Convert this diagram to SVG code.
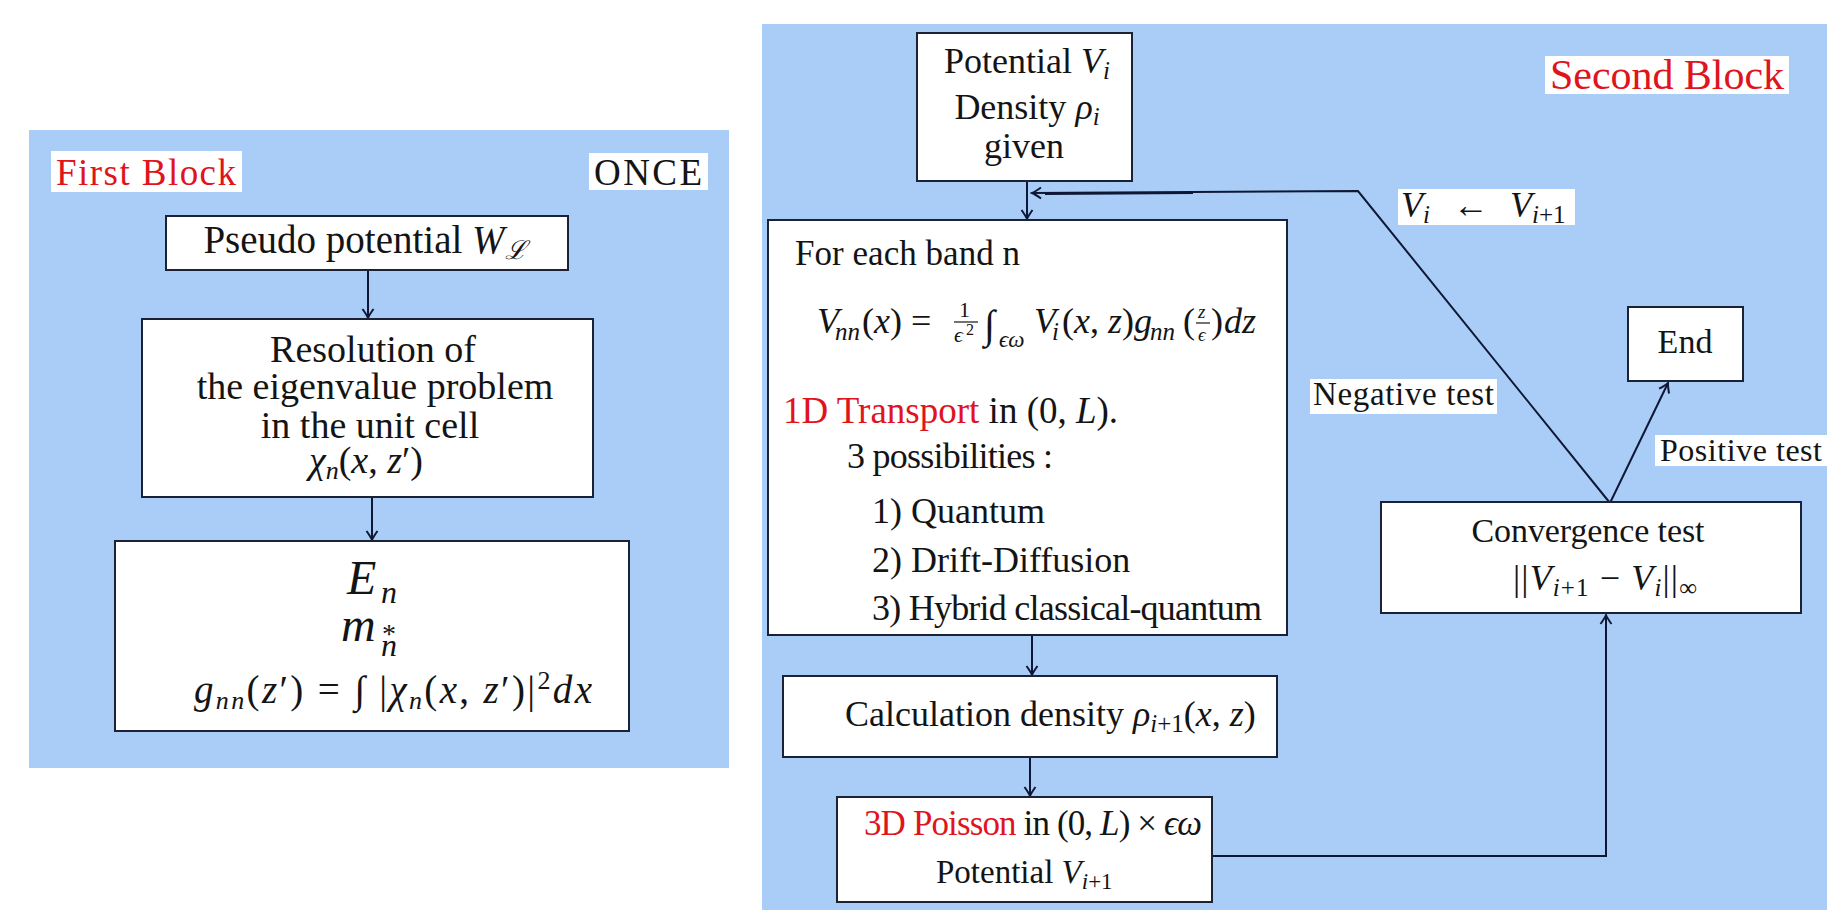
<svg xmlns="http://www.w3.org/2000/svg" width="1827" height="910" viewBox="0 0 1827 910">
<style>
.bg{fill:#a9cdf6}
.box{fill:#fff;stroke:#1b2235;stroke-width:2}
.lbl{fill:#fff}
.t{font-family:"Liberation Serif","Times New Roman","DejaVu Serif",serif;fill:#141414}
.red{fill:#e0141c}
.it{font-style:italic}
.cn{fill:none;stroke:#0e1836;stroke-width:2}
.fb{stroke:#141414;stroke-width:1.2}
</style>
<defs>
<marker id="ah" viewBox="-11 -7 13 14" refX="0" refY="0" markerWidth="13" markerHeight="14" markerUnits="userSpaceOnUse" orient="auto">
<path d="M-9,-5.5 Q-3,-1.2 0,0 Q-3,1.2 -9,5.5" fill="none" stroke="#0e1836" stroke-width="2"/>
</marker>
</defs>
<rect fill="#ffffff" x="0" y="0" width="1827" height="910"/>
<g id="first-block">
<rect class="bg" x="29" y="130" width="700" height="638"/>
<rect class="lbl" x="51" y="151" width="191" height="41"/>
<text class="t red" x="56" y="185" font-size="37" textLength="180">First Block</text>
<rect class="lbl" x="589" y="153" width="119" height="37"/>
<text class="t" x="594" y="185" font-size="37" textLength="108">ONCE</text>
</g>
<g id="second-block">
<rect class="bg" x="762" y="24" width="1065" height="886"/>
<rect class="lbl" x="1545" y="56" width="244" height="38"/>
<text class="t red" x="1550" y="89" font-size="42" textLength="234">Second Block</text>
</g>
<g id="connectors">
<path class="cn" d="M368,270 L368,318" marker-end="url(#ah)"/>
<path class="cn" d="M372,497 L372,540" marker-end="url(#ah)"/>
<path class="cn" d="M1027,181 L1027,219" marker-end="url(#ah)"/>
<path class="cn" d="M1610,503 L1358,191 L1032,193" marker-end="url(#ah)"/>
<path class="cn" d="M1045,194 L1193,193" stroke-width="4.5"/>
<path class="cn" d="M1032,635 L1032,675" stroke-width="3" marker-end="url(#ah)"/>
<path class="cn" d="M1030,757 L1030,796" stroke-width="4" marker-end="url(#ah)"/>
<path class="cn" d="M1212,856 L1606,856 L1606,615" marker-end="url(#ah)"/>
<path class="cn" d="M1610,503 L1668,383" marker-end="url(#ah)"/>
<rect class="lbl" x="1398" y="189" width="177" height="36"/>
<text class="t" y="217" font-size="36"><tspan class="it" x="1401">V</tspan><tspan class="it" font-size="25" dy="6">i</tspan><tspan x="1453" dy="-6">←</tspan><tspan class="it" x="1510">V</tspan><tspan font-size="25" dy="6"><tspan class="it">i</tspan>+1</tspan></text>
<rect class="lbl" x="1310" y="379" width="187" height="35"/>
<text class="t" x="1313" y="405" font-size="33" textLength="181">Negative test</text>
<rect class="lbl" x="1655" y="435" width="172" height="31"/>
<text class="t" x="1660" y="461" font-size="32" textLength="162">Positive test</text>
</g>
<g id="node-pseudo">
<rect class="box" x="166" y="216" width="402" height="54"/>
<text class="t" x="365" y="253" font-size="39" text-anchor="middle">Pseudo potential <tspan class="it">W</tspan><tspan class="it" font-size="26" dy="6">ℒ</tspan></text>
</g>
<g id="node-resolution">
<rect class="box" x="142" y="319" width="451" height="178"/>
<text class="t" x="373" y="362" font-size="38" text-anchor="middle">Resolution of</text>
<text class="t" x="375" y="399" font-size="38" text-anchor="middle">the eigenvalue problem</text>
<text class="t" x="370" y="438" font-size="38" text-anchor="middle">in the unit cell</text>
<text class="t" x="366" y="473" font-size="38" text-anchor="middle"><tspan class="it">χ</tspan><tspan class="it" font-size="26" dy="6">n</tspan><tspan dy="-6">(</tspan><tspan class="it">x</tspan>, <tspan class="it">z</tspan>′)</text>
</g>
<g id="node-bands">
<rect class="box" x="115" y="541" width="514" height="190"/>
<text class="t it" x="347" y="594" font-size="48">E</text>
<text class="t it" x="381" y="603" font-size="32">n</text>
<text class="t it" x="341" y="641" font-size="48">m</text>
<text class="t" x="382" y="643" font-size="28">*</text>
<text class="t it" x="381" y="656" font-size="32">n</text>
<text class="t" x="194" y="703" font-size="39" textLength="398"><tspan class="it">g</tspan><tspan class="it" font-size="26" dy="6">nn</tspan><tspan dy="-6">(</tspan><tspan class="it">z</tspan>′) = ∫ |<tspan class="it">χ</tspan><tspan class="it" font-size="26" dy="6">n</tspan><tspan dy="-6">(</tspan><tspan class="it">x</tspan>, <tspan class="it">z</tspan>′)|<tspan font-size="26" dy="-14">2</tspan><tspan class="it" dy="14">dx</tspan></text>
</g>
<g id="node-potential">
<rect class="box" x="917" y="33" width="215" height="148"/>
<text class="t" x="1027" y="73" font-size="36" text-anchor="middle">Potential <tspan class="it">V</tspan><tspan class="it" font-size="25" dy="6">i</tspan></text>
<text class="t" x="1027" y="119" font-size="36" text-anchor="middle">Density <tspan class="it">ρ</tspan><tspan class="it" font-size="25" dy="6">i</tspan></text>
<text class="t" x="1024" y="158" font-size="36" text-anchor="middle">given</text>
</g>
<g id="node-foreach">
<rect class="box" x="768" y="220" width="519" height="415"/>
<text class="t" x="795" y="265" font-size="35" textLength="225">For each band n</text>
<text class="t" font-size="36"><tspan class="it" x="817" y="333">V</tspan><tspan class="it" font-size="25" x="835" y="340">nn</tspan><tspan x="862" y="333">(</tspan><tspan class="it">x</tspan><tspan>) = </tspan></text>
<text class="t" x="959" y="317" font-size="22">1</text>
<line class="fb" x1="954" y1="322" x2="978" y2="322"/>
<text class="t it" x="954" y="342" font-size="22">ϵ</text>
<text class="t" x="966" y="335" font-size="16">2</text>
<text class="t" x="984" y="338" font-size="40">∫</text>
<text class="t it" x="999" y="347" font-size="23">ϵω</text>
<text class="t" font-size="36"><tspan class="it" x="1034" y="333">V</tspan><tspan class="it" font-size="25" x="1052" y="340">i</tspan><tspan x="1062" y="333">(</tspan><tspan class="it">x</tspan>, <tspan class="it">z</tspan>)<tspan class="it">g</tspan><tspan class="it" font-size="25" x="1150" y="340">nn</tspan><tspan x="1183" y="333">(</tspan></text>
<text class="t it" x="1198" y="318" font-size="19">z</text>
<line class="fb" x1="1196" y1="323" x2="1210" y2="323"/>
<text class="t it" x="1198" y="341" font-size="19">ϵ</text>
<text class="t" font-size="36"><tspan x="1211" y="333">)</tspan><tspan class="it" x="1224">dz</tspan></text>
<text class="t" x="783" y="423" font-size="37"><tspan class="red">1D Transport</tspan> in (0, <tspan class="it">L</tspan>).</text>
<text class="t" x="847" y="468" font-size="36" textLength="206">3 possibilities :</text>
<text class="t" x="872" y="523" font-size="36">1) Quantum</text>
<text class="t" x="872" y="572" font-size="36">2) Drift-Diffusion</text>
<text class="t" x="872" y="620" font-size="36" textLength="390">3) Hybrid classical-quantum</text>
</g>
<g id="node-density">
<rect class="box" x="783" y="676" width="494" height="81"/>
<text class="t" x="845" y="726" font-size="36">Calculation density <tspan class="it">ρ</tspan><tspan font-size="25" dy="6"><tspan class="it">i</tspan>+1</tspan><tspan dy="-6">(</tspan><tspan class="it">x</tspan>, <tspan class="it">z</tspan>)</text>
</g>
<g id="node-poisson">
<rect class="box" x="837" y="797" width="375" height="105"/>
<text class="t" x="864" y="835" font-size="35" textLength="338"><tspan class="red">3D Poisson</tspan> in (0, <tspan class="it">L</tspan>) × <tspan class="it">ϵω</tspan></text>
<text class="t" x="936" y="883" font-size="33">Potential <tspan class="it">V</tspan><tspan font-size="23" dy="6"><tspan class="it">i</tspan>+1</tspan></text>
</g>
<g id="node-convergence">
<rect class="box" x="1381" y="502" width="420" height="111"/>
<text class="t" x="1588" y="542" font-size="34" text-anchor="middle" textLength="233">Convergence test</text>
<text class="t" x="1513" y="590" font-size="36" textLength="184">||<tspan class="it">V</tspan><tspan font-size="25" dy="6"><tspan class="it">i</tspan>+1</tspan><tspan dy="-6"> − </tspan><tspan class="it">V</tspan><tspan class="it" font-size="25" dy="6">i</tspan><tspan dy="-6">||</tspan><tspan font-size="25" dy="6">∞</tspan></text>
</g>
<g id="node-end">
<rect class="box" x="1628" y="307" width="115" height="74"/>
<text class="t" x="1685" y="353" font-size="34" text-anchor="middle">End</text>
</g>
</svg>
